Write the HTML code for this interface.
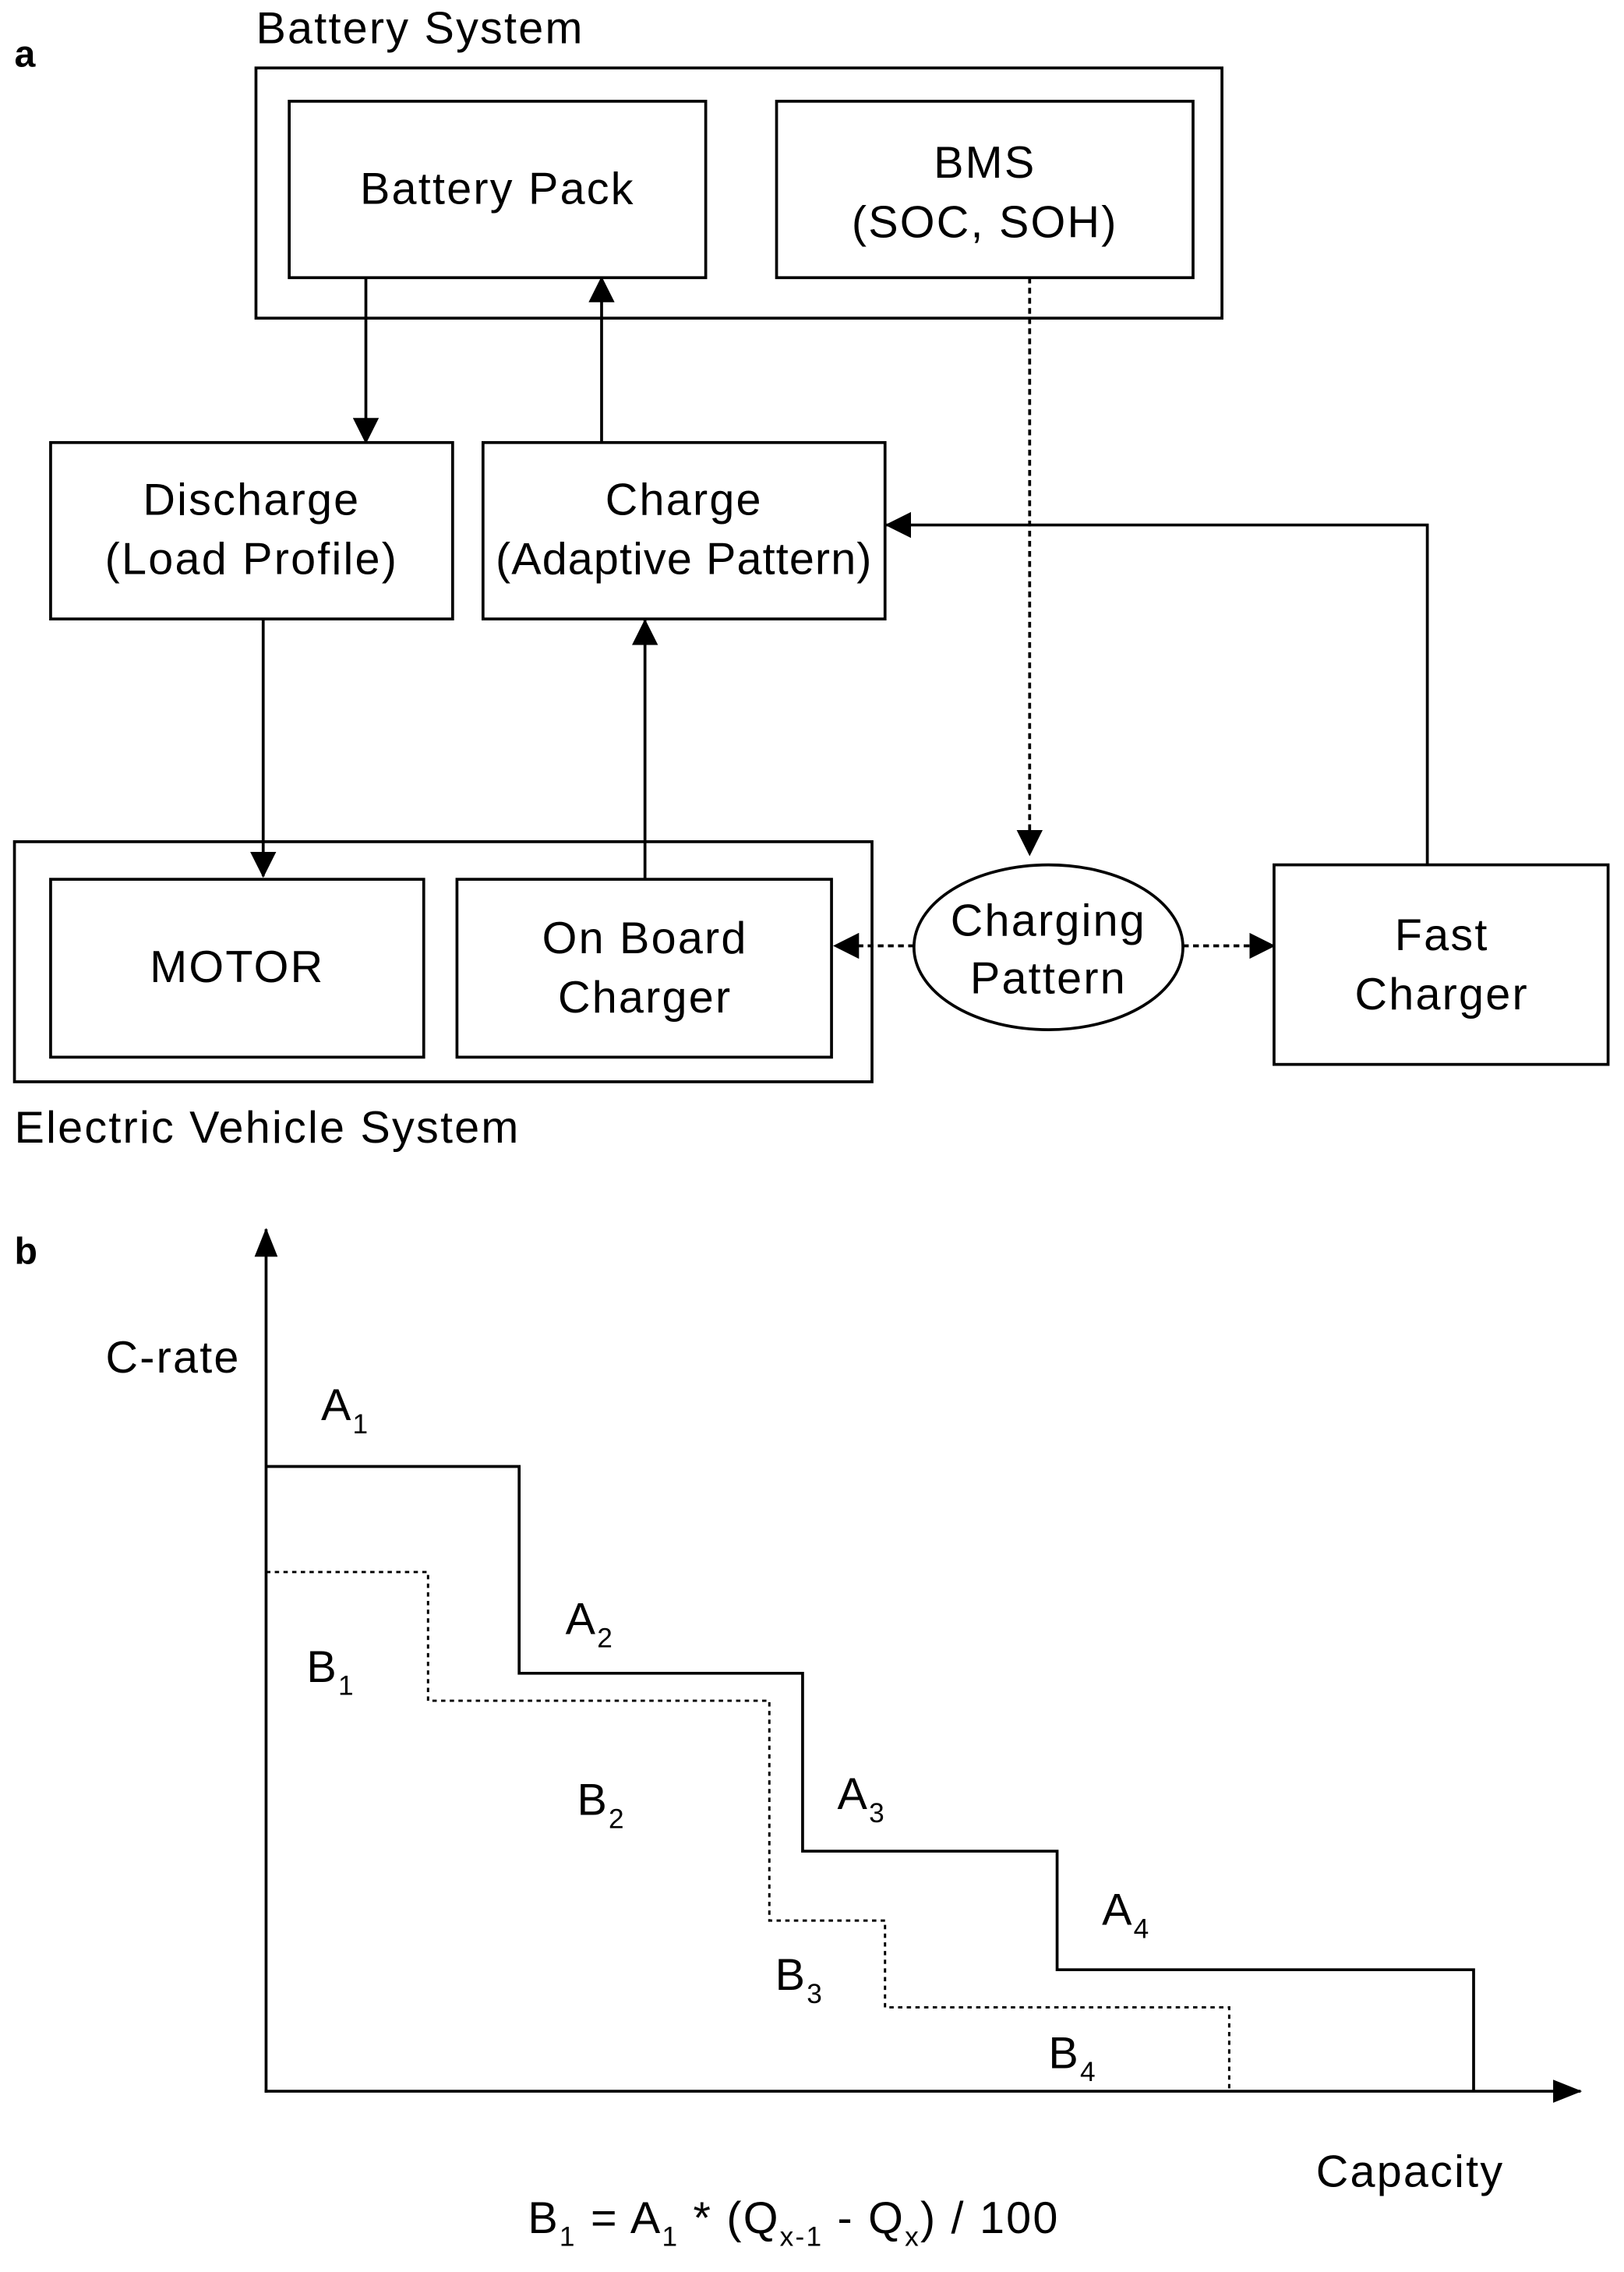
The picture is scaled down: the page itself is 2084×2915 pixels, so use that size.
<!DOCTYPE html>
<html><head><style>html,body{margin:0;padding:0;background:#fff}svg{display:block}</style></head>
<body>
<svg width="2084" height="2915" viewBox="0 0 1123 1571" preserveAspectRatio="none" xmlns="http://www.w3.org/2000/svg" font-family="Liberation Sans, Arial, sans-serif" fill="none" stroke="#000">
<defs>
<marker id="ar2" markerWidth="18" markerHeight="18" refX="17" refY="9" orient="auto" markerUnits="userSpaceOnUse"><path d="M0,0 L18,9 L0,18 z" fill="#000" stroke="none"/></marker>
<marker id="ar3" markerWidth="20" markerHeight="20" refX="19" refY="10" orient="auto" markerUnits="userSpaceOnUse"><path d="M0,2 L20,10 L0,18 z" fill="#000" stroke="none"/></marker>
</defs>
<g fill="#000" stroke="none" font-size="31" letter-spacing="1.2">
<text x="10" y="46" font-weight="bold" font-size="26" letter-spacing="0">a</text>
<text x="177" y="30">Battery System</text>
<text x="344" y="141" text-anchor="middle">Battery Pack</text>
<text x="681" y="123" text-anchor="middle">BMS</text>
<text x="681" y="164" text-anchor="middle">(SOC, SOH)</text>
<text x="174" y="356" text-anchor="middle">Discharge</text>
<text x="174" y="397" text-anchor="middle">(Load Profile)</text>
<text x="473" y="356" text-anchor="middle">Charge</text>
<text x="473" y="397" text-anchor="middle" letter-spacing="0.6">(Adaptive Pattern)</text>
<text x="164" y="679" text-anchor="middle">MOTOR</text>
<text x="446" y="659" text-anchor="middle">On Board</text>
<text x="446" y="700" text-anchor="middle">Charger</text>
<text x="725" y="647" text-anchor="middle">Charging</text>
<text x="725" y="687" text-anchor="middle">Pattern</text>
<text x="997" y="657" text-anchor="middle">Fast</text>
<text x="997" y="698" text-anchor="middle">Charger</text>
<text x="10" y="790">Electric Vehicle System</text>
<text x="10" y="874" font-weight="bold" font-size="26" letter-spacing="0">b</text>
<text x="73" y="949">C-rate</text>
<text x="910" y="1512">Capacity</text>
<text x="222" y="982">A<tspan font-size="19" dy="9">1</tspan></text>
<text x="391" y="1130">A<tspan font-size="19" dy="9">2</tspan></text>
<text x="579" y="1251">A<tspan font-size="19" dy="9">3</tspan></text>
<text x="762" y="1331">A<tspan font-size="19" dy="9">4</tspan></text>
<text x="212" y="1163">B<tspan font-size="19" dy="9">1</tspan></text>
<text x="399" y="1255">B<tspan font-size="19" dy="9">2</tspan></text>
<text x="536" y="1376">B<tspan font-size="19" dy="9">3</tspan></text>
<text x="725" y="1430">B<tspan font-size="19" dy="9">4</tspan></text>
<text x="365" y="1544">B<tspan font-size="19" dy="9">1</tspan><tspan dy="-9"> = A</tspan><tspan font-size="19" dy="9">1</tspan><tspan dy="-9"> * (Q</tspan><tspan font-size="19" dy="9">x-1</tspan><tspan dy="-9"> - Q</tspan><tspan font-size="19" dy="9">x</tspan><tspan dy="-9">) / 100</tspan></text>
</g>
<g stroke-width="2">
<rect x="177" y="47" width="668" height="173"/>
<rect x="200" y="70" width="288" height="122"/>
<rect x="537" y="70" width="288" height="122"/>
<rect x="35" y="306" width="278" height="122"/>
<rect x="334" y="306" width="278" height="122"/>
<rect x="10" y="582" width="593" height="166"/>
<rect x="35" y="608" width="258" height="123"/>
<rect x="316" y="608" width="259" height="123"/>
<rect x="881" y="598" width="231" height="138"/>
<ellipse cx="725" cy="655" rx="93" ry="57"/>
<line x1="253" y1="192" x2="253" y2="306" marker-end="url(#ar2)"/>
<line x1="416" y1="306" x2="416" y2="192" marker-end="url(#ar2)"/>
<line x1="182" y1="428" x2="182" y2="606" marker-end="url(#ar2)"/>
<line x1="446" y1="608" x2="446" y2="429" marker-end="url(#ar2)"/>
<polyline points="987,598 987,363 613,363" marker-end="url(#ar2)"/>
<line x1="712" y1="192" x2="712" y2="591" stroke-dasharray="4,3" marker-end="url(#ar2)"/>
<line x1="632" y1="654" x2="577" y2="654" stroke-dasharray="4,3" marker-end="url(#ar2)"/>
<line x1="818" y1="654" x2="881" y2="654" stroke-dasharray="4,3" marker-end="url(#ar2)"/>
<line x1="184" y1="1447" x2="184" y2="850" marker-end="url(#ar3)"/>
<line x1="183" y1="1446" x2="1093" y2="1446" marker-end="url(#ar3)"/>
<polyline points="184,1014 359,1014 359,1157 555,1157 555,1280 731,1280 731,1362 1019,1362 1019,1446"/>
<polyline stroke-width="1.6" stroke-dasharray="3,3" points="184,1087 296,1087 296,1176 532,1176 532,1328 612,1328 612,1388 850,1388 850,1446"/>
</g>
</svg>
</body></html>
